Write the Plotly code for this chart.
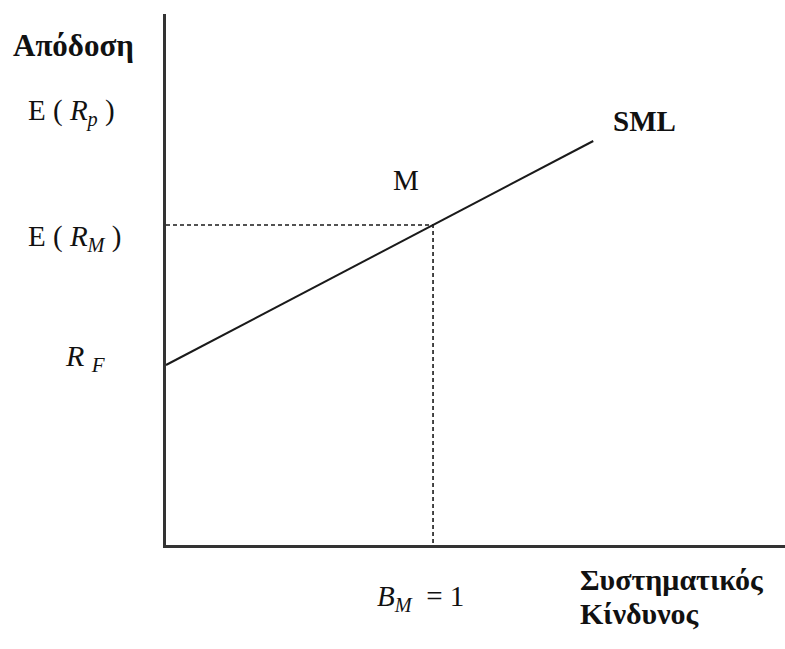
import plotly.graph_objects as go

# ---- data (abstract units) ----
beta_sml = [0.0, 1.0, 1.6]          # systematic risk (beta) along the SML
return_sml = [4.5, 8.0, 10.1]       # expected return along the SML
beta_m = 1.0                        # market beta
r_f = 4.5                           # risk-free rate
e_rm = 8.0                          # expected market return
x_max = 2.318
y_max = 13.275

# ---- layout geometry (pixels) ----
W, H = 785, 649
L, R, T, B = 166, 0, 14, 104
PW = W - L - R
PH = H - T - B


def px_x(px):
    return (px - L) / PW


def px_y(py):
    return (H - B - py) / PH


FONT = "Liberation Serif, Times New Roman, serif"
INK = "#111111"

fig = go.Figure()

# SML
fig.add_trace(go.Scatter(x=beta_sml, y=return_sml, mode="lines",
                         line=dict(color="#1a1a1a", width=2),
                         hoverinfo="skip", showlegend=False))
# dashed guides to the market point M
fig.add_trace(go.Scatter(x=[0, beta_m, beta_m], y=[e_rm, e_rm, 0], mode="lines",
                         line=dict(color="#1a1a1a", width=1.6, dash="4px,3px"),
                         hoverinfo="skip", showlegend=False))

ann = []


def add(text, xp, yp, size, bold=False, xanchor="left"):
    if bold:
        text = "<b>" + text + "</b>"
    ann.append(dict(text=text, x=px_x(xp), y=px_y(yp), xref="paper", yref="paper",
                    xanchor=xanchor, yanchor="middle", showarrow=False,
                    font=dict(family=FONT, size=size, color=INK)))


add("Απόδοση", 11, 46, 31, bold=True)
add("E ( <i>R<sub>p</sub></i> )", 26, 113, 29)
add("E ( <i>R<sub>M</sub></i> )", 26, 238, 29)
add("<i>R</i> <sub><i>F</i></sub>", 63, 358, 30)
add("M", 391, 180, 29)
add("SML", 611, 121, 29, bold=True)
add("<i>B</i><sub><i>M</i></sub>  = 1", 375, 598, 29)
add("Συστηματικός", 578, 579, 30, bold=True)
add("Κίνδυνος", 578, 613, 30, bold=True)

fig.update_layout(
    width=W, height=H,
    margin=dict(l=L, r=R, t=T, b=B, pad=0),
    paper_bgcolor="white", plot_bgcolor="white",
    annotations=ann,
    hovermode=False,
    xaxis=dict(range=[0, x_max], showline=True, linecolor="#333333", linewidth=2.5,
               showgrid=False, zeroline=False, showticklabels=False, ticks="",
               fixedrange=True),
    yaxis=dict(range=[0, y_max], showline=True, linecolor="#333333", linewidth=2.5,
               showgrid=False, zeroline=False, showticklabels=False, ticks="",
               fixedrange=True),
)

fig.write_html("out.html", config={"displayModeBar": False},
               post_script="document.body.style.margin='0';document.body.style.overflow='hidden';")
